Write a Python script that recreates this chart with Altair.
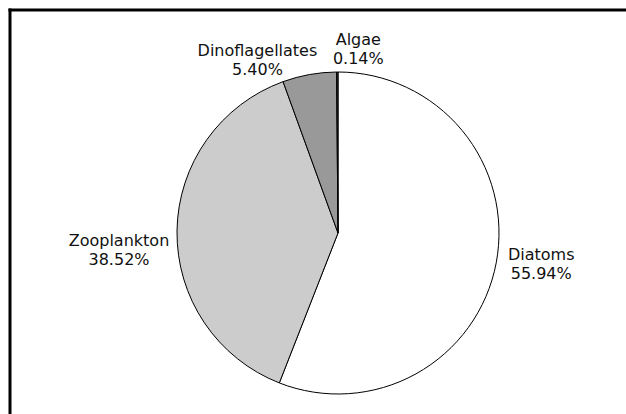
import altair as alt
import pandas as pd

categories = ["Diatoms", "Zooplankton", "Dinoflagellates", "Algae"]
shares = [55.94, 38.52, 5.40, 0.14]
fills = ["#ffffff", "#cccccc", "#999999", "#333333"]

df = pd.DataFrame({"category": categories, "share": shares, "idx": list(range(len(categories)))})

W, H = 626, 414
CX, CY, R = 338, 233, 161
FONT = "DejaVu Sans"

base = alt.Chart(df).transform_calculate(
    label="datum.category + '\\n' + format(datum.share, '.2f') + '%'"
)

pie = base.mark_arc(radius=R, stroke="black", strokeWidth=1).encode(
    theta=alt.Theta("share:Q", stack=True),
    order=alt.Order("idx:Q"),
    color=alt.Color("category:N", scale=alt.Scale(domain=categories, range=fills), legend=None),
    x=alt.value(CX),
    y=alt.value(CY),
)

offsets = {
    "Diatoms": (45, -8),
    "Zooplankton": (-58, 10),
    "Dinoflagellates": (-52, -24),
    "Algae": (21, -32),
}

label_layers = []
for cat in categories:
    dx, dy = offsets[cat]
    lay = base.transform_calculate(
        shown=f"datum.category == '{cat}' ? datum.label : ''"
    ).mark_text(
        radius=R, align="center", baseline="middle", font=FONT, fontSize=16,
        lineHeight=19, lineBreak="\n", color="#111111", dx=dx, dy=dy,
    ).encode(
        theta=alt.Theta("share:Q", stack=True),
        order=alt.Order("idx:Q"),
        text=alt.Text("shown:N"),
        x=alt.value(CX),
        y=alt.value(CY),
    )
    label_layers.append(lay)

one = pd.DataFrame({"a": [0]})
frame_left = alt.Chart(one).mark_rule(color="black", strokeWidth=3).encode(
    x=alt.value(10), y=alt.value(8.5), y2=alt.value(H)
)
frame_top = alt.Chart(one).mark_rule(color="black", strokeWidth=3).encode(
    x=alt.value(8.5), x2=alt.value(W), y=alt.value(10)
)

chart = alt.layer(pie, *label_layers, frame_left, frame_top).properties(
    width=W, height=H, autosize=alt.AutoSizeParams(type="none"), padding=0,
    background="white",
).configure_view(stroke=None)

chart.save("out.html", embed_options={"renderer": "svg", "actions": False})
